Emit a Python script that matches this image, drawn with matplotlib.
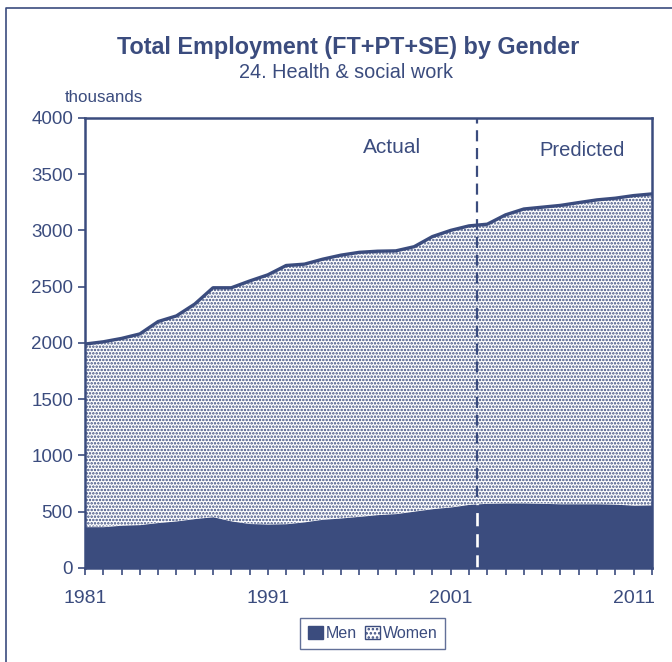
import numpy as np
import matplotlib.pyplot as plt
from matplotlib.lines import Line2D
from matplotlib.patches import Patch

plt.rcParams['font.family'] = ['Liberation Sans', 'DejaVu Sans']
plt.rcParams['hatch.linewidth'] = 1.2

navy = '#3b4c7e'

# data (thousands)
years = list(range(1981, 2013))
total = [1990, 2010, 2040, 2080, 2190, 2240, 2345, 2490, 2490, 2550,
         2605, 2688, 2700, 2744, 2780, 2805, 2815, 2818, 2855, 2945,
         3000, 3040, 3055, 3138, 3190, 3206, 3222, 3247, 3271, 3286,
         3309, 3324]
men = [367, 367, 380, 385, 404, 418, 439, 455, 418, 395,
       390, 393, 410, 433, 444, 459, 474, 483, 505, 527,
       542, 565, 575, 578, 578, 575, 570, 570, 570, 567,
       558, 560]
split_year = 2002.45

fig = plt.figure(figsize=(6.72, 6.62), dpi=100)
ax = fig.add_axes([0.1265, 0.142, 0.8435, 0.68])

ax.fill_between(years, 0, men, color=navy, linewidth=0, label='Men')
ax.fill_between(years, men, total, facecolor='white', edgecolor=navy,
                hatch='.....', linewidth=0, label='Women')
ax.plot(years, total, color=navy, lw=2.4)

# actual / predicted divider
ax.axvline(split_year, color=navy, lw=1.6, ls=(0, (5, 3)))
ax.plot([split_year, split_year], [0, 575], color='white', lw=1.9,
        ls=(0, (5, 3)))

ax.set_xlim(1981, 2012)
ax.set_ylim(0, 4000)
ax.set_yticks(np.arange(0, 4001, 500))
ax.set_xticks(years)
ax.set_xticklabels([str(y) if y in (1981, 1991, 2001, 2011) else '' for y in years])
ax.tick_params(colors=navy, labelcolor=navy, labelsize=13.5, direction='out',
               length=5, width=1.2)
ax.tick_params(axis='x', labelsize=14, pad=11)
for s in ax.spines.values():
    s.set_color(navy)
    s.set_linewidth(1.8)

ax.text(1997.8, 3733, 'Actual', color=navy, fontsize=15, ha='center', va='center')
ax.text(2008.2, 3707, 'Predicted', color=navy, fontsize=14.5, ha='center', va='center')

fig.text(0.518, 0.929, 'Total Employment (FT+PT+SE) by Gender', color=navy,
         fontsize=16.8, fontweight='bold', ha='center', va='center')
fig.text(0.515, 0.891, '24. Health & social work', color=navy,
         fontsize=14.3, ha='center', va='center')
fig.text(0.097, 0.852, 'thousands', color=navy, fontsize=12.2, va='center')

handles = [Patch(facecolor=navy, edgecolor=navy),
           Patch(facecolor='white', edgecolor=navy, hatch='....')]
leg = fig.legend(handles, ['Men', 'Women'], loc='center',
                 bbox_to_anchor=(0.555, 0.043), ncol=2, frameon=True,
                 fancybox=False, fontsize=11.5, handlelength=0.9,
                 handleheight=0.9, handletextpad=0.2, columnspacing=0.5,
                 borderpad=0.5)
leg.get_frame().set_edgecolor(navy)
leg.get_frame().set_linewidth(1.0)
for t in leg.get_texts():
    t.set_color(navy)

# page border (left and top only)
fig.add_artist(Line2D([0.009, 0.009, 1.0], [0.0, 0.988, 0.988],
                      color=navy, lw=1.2, transform=fig.transFigure))

fig.savefig('out.png', dpi=100)
